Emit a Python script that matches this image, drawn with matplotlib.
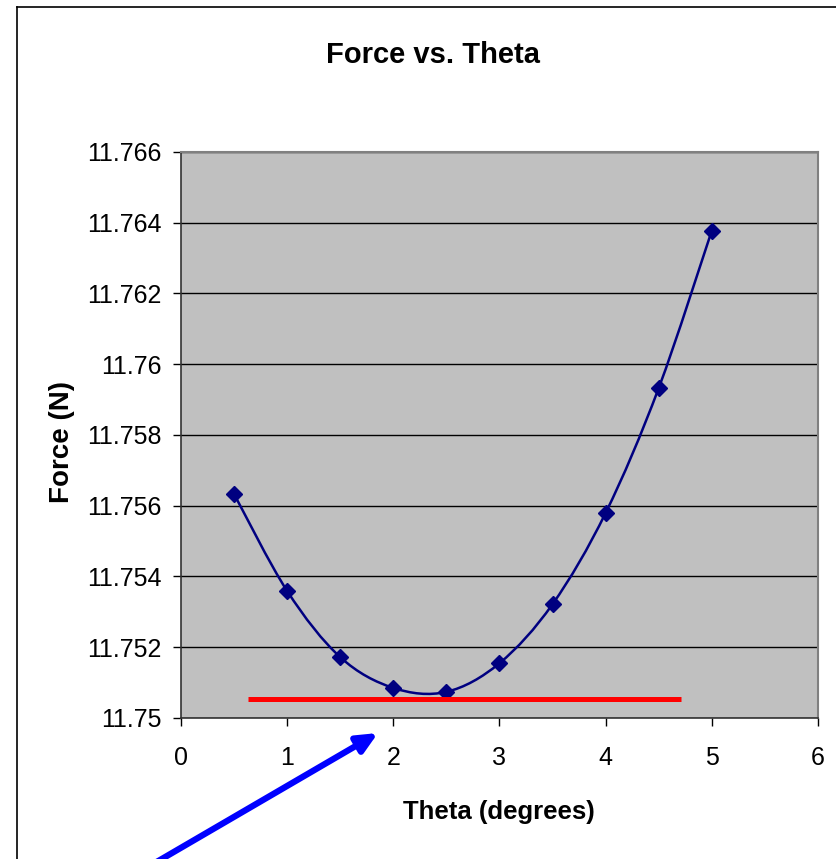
import matplotlib
matplotlib.use("Agg")
import matplotlib.pyplot as plt
from matplotlib.path import Path
from matplotlib.patches import PathPatch
from matplotlib.lines import Line2D
import numpy as np

plt.rcParams["font.family"] = ["Liberation Sans", "DejaVu Sans"]

# data
theta = [0.5, 1.0, 1.5, 2.0, 2.5, 3.0, 3.5, 4.0, 4.5, 5.0]
force = [11.75633, 11.75359, 11.75172, 11.75085, 11.75074,
         11.75155, 11.75322, 11.75580, 11.75933, 11.76378]
y_ticks = [11.75, 11.752, 11.754, 11.756, 11.758, 11.76, 11.762, 11.764, 11.766]
y_tick_labels = ["11.75", "11.752", "11.754", "11.756", "11.758",
                 "11.76", "11.762", "11.764", "11.766"]
x_ticks = [0, 1, 2, 3, 4, 5, 6]
red_x = [0.63, 4.71]
red_y = [11.75054, 11.75054]

W, H = 837, 859
fig = plt.figure(figsize=(W / 100, H / 100), dpi=100, facecolor="white")
ax = fig.add_axes([181 / W, (H - 718) / H, (818 - 181) / W, (718 - 152) / H])
ax.set_facecolor("#C0C0C0")

# outer chart frame (only left/top visible in the crop)
fig.add_artist(Line2D([17 / W, 17 / W], [0, 1 - 7 / H], transform=fig.transFigure,
                      color="black", linewidth=1.2))
fig.add_artist(Line2D([17 / W, 1], [1 - 7 / H, 1 - 7 / H], transform=fig.transFigure,
                      color="black", linewidth=1.2))

ax.set_xlim(0, 6)
ax.set_ylim(11.75, 11.766)
ax.set_yticks(y_ticks)
ax.set_yticklabels(y_tick_labels)
ax.set_xticks(x_ticks)
ax.grid(axis="y", color="black", linewidth=1.0)
ax.set_axisbelow(True)

for side in ["top", "right"]:
    ax.spines[side].set_color("#808080")
    ax.spines[side].set_linewidth(1.5)
for side in ["left", "bottom"]:
    ax.spines[side].set_color("#333333")
    ax.spines[side].set_linewidth(1.2)

ax.tick_params(axis="y", direction="out", length=6, width=1, pad=8,
               labelsize=18, colors="black")
ax.tick_params(axis="x", direction="out", length=6, width=1, pad=14,
               labelsize=18, colors="black")

# smoothed line like Excel: cubic Bezier segments through the points
pts = np.column_stack([theta, force])
ext = np.vstack([pts[0], pts, pts[-1]])
verts = [tuple(pts[0])]
codes = [Path.MOVETO]
for i in range(len(pts) - 1):
    p0, p1, p2, p3 = ext[i], ext[i + 1], ext[i + 2], ext[i + 3]
    c1 = p1 + (p2 - p0) / 6
    c2 = p2 - (p3 - p1) / 6
    verts += [tuple(c1), tuple(c2), tuple(p2)]
    codes += [Path.CURVE4] * 3
ax.add_patch(PathPatch(Path(verts, codes), facecolor="none",
                       edgecolor="#000080", linewidth=1.8, zorder=3))
ax.plot(theta, force, linestyle="none", marker="D", markersize=8.5,
        color="#000080", zorder=4)

ax.plot(red_x, red_y, color="#FF0000", linewidth=3.6, zorder=5,
        solid_capstyle="butt")

fig.text(433 / W, 1 - 55 / H, "Force vs. Theta", fontsize=21,
         fontweight="bold", ha="center", va="center")
fig.text(62 / W, 1 - 442 / H, "Force (N)", fontsize=20, fontweight="bold",
         ha="center", va="center", rotation=90)
fig.text(499 / W, 1 - 812 / H, "Theta (degrees)", fontsize=18.5,
         fontweight="bold", ha="center", va="center")

# blue arrow pointing at the curve minimum
ax.annotate("", xy=(378, H - 733), xycoords="figure pixels",
            xytext=(148, -8), textcoords="figure pixels",
            arrowprops=dict(arrowstyle="-|>,head_length=1.2,head_width=0.55",
                            color="#0000FF", linewidth=4.5, shrinkA=0, shrinkB=0),
            annotation_clip=False)

fig.savefig("out.png", dpi=100, facecolor="white")
